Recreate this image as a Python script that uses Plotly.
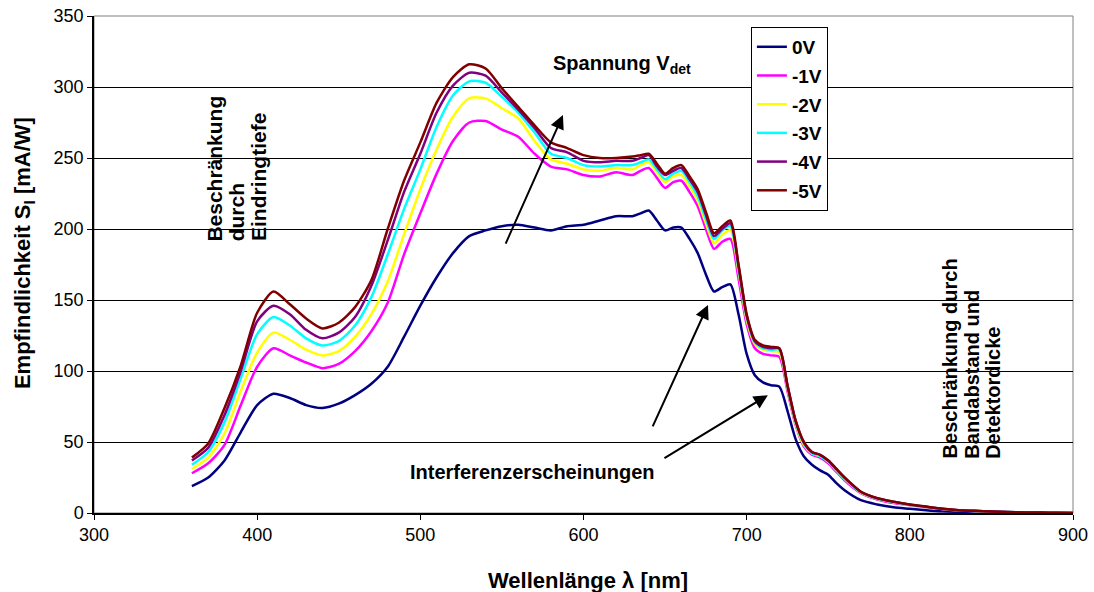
import plotly.graph_objects as go

# Wavelength grid [nm]
wavelength = [360, 370, 380, 390, 400, 410, 420, 430, 440, 450, 460, 470, 480, 490,
              500, 510, 520, 530, 540, 550, 560, 570, 580, 590, 600, 610, 620, 630,
              635, 640, 645, 650, 655, 660, 665, 670, 675, 680, 685, 690, 695, 700,
              705, 710, 715, 720, 725, 730, 735, 740, 745, 750, 755, 760,
              770, 780, 790, 800, 810, 820, 830, 840, 850, 860, 870, 880, 890, 900]

# Spectral responsivity [mA/W] per detector bias
s_0V = [19, 25, 37, 57, 76, 84, 81, 76, 74, 77, 83, 91, 103, 124,
        146, 166, 183, 195, 199, 202, 203, 201, 199, 202, 203, 206, 209, 209,
        211, 213, 206, 199, 201, 201, 193, 183, 168, 156, 159, 161, 140, 112,
        97, 92, 90, 89, 72, 52, 40, 34, 30, 27, 21, 16,
        9, 6, 4, 3, 2, 1.2, 0.8, 0.5, 0.3, 0.2, 0.1, 0.1, 0, 0]

s_1V = [28, 35, 48, 76, 103, 116, 111, 106, 102, 105, 114, 128, 148, 182,
        211, 239, 262, 275, 276, 270, 265, 253, 244, 242, 238, 237, 240, 238,
        241, 243, 236, 229, 233, 234, 226, 216, 200, 186, 191, 193, 165, 133,
        116, 112, 111, 110, 86, 62, 47, 41, 39, 35, 29, 23,
        14, 9.5, 7, 5.5, 4, 2.7, 1.8, 1.3, 0.9, 0.6, 0.4, 0.2, 0.1, 0]

s_2V = [31, 39, 56, 86, 113, 127, 122, 115, 111, 114, 124, 140, 163, 196,
        228, 256, 279, 292, 292, 285, 278, 262, 249, 246, 242, 241, 243, 242,
        245, 247, 240, 233, 237, 238, 230, 220, 204, 190, 196, 199, 170, 136,
        119, 115, 114, 113, 88, 63, 48, 42, 40, 36, 30, 24,
        14.5, 10, 7.5, 5.7, 4.2, 2.8, 1.9, 1.4, 0.9, 0.6, 0.4, 0.2, 0.1, 0]

s_3V = [34, 43, 64, 95, 126, 138, 132, 123, 118, 121, 132, 152, 182, 214,
        242, 272, 294, 304, 303, 293, 282, 268, 253, 250, 245, 244, 245, 245,
        247, 249, 242, 235, 239, 241, 233, 223, 207, 193, 199, 202, 172, 138,
        120, 116, 115, 115, 89, 64, 49, 42, 40, 36, 30, 24,
        14.7, 10.2, 7.7, 5.8, 4.3, 2.9, 1.9, 1.4, 1.0, 0.7, 0.4, 0.2, 0.1, 0]

s_4V = [37, 46, 69, 100, 135, 146, 140, 129, 123, 127, 138, 160, 192, 226,
        253, 282, 301, 310, 308, 296, 284, 271, 257, 254, 248, 247, 248, 248,
        250, 252, 244, 238, 241, 243, 235, 226, 210, 195, 200, 204, 174, 139,
        121, 117, 116, 116, 90, 65, 50, 43, 41, 37, 31, 25,
        15, 10.4, 7.9, 5.9, 4.4, 3, 2, 1.5, 1, 0.7, 0.4, 0.3, 0.1, 0]

s_5V = [39, 49, 74, 104, 141, 156, 147, 137, 130, 134, 145, 164, 200, 234,
        261, 289, 307, 316, 313, 299, 286, 273, 261, 257, 252, 250, 250, 251,
        252, 253, 246, 239, 243, 245, 237, 228, 212, 197, 202, 206, 175, 140,
        122, 118, 117, 116, 90, 65, 50, 43, 41, 37, 31, 25,
        15, 10.5, 8, 6, 4.5, 3, 2, 1.5, 1, 0.7, 0.4, 0.3, 0.1, 0]

series_names = ["0V", "-1V", "-2V", "-3V", "-4V", "-5V"]
series_values = [s_0V, s_1V, s_2V, s_3V, s_4V, s_5V]
series_colors = ["#000080", "#FF00FF", "#FFFF00", "#00FFFF", "#800080", "#800000"]

# Rotated side notes: one entry per text column, left to right
note_left = ["Beschränkung", "durch", "Eindringtiefe"]
note_right = ["Beschränkung durch", "Bandabstand und", "Detektordicke"]

FONT = "Liberation Sans, Arial, sans-serif"
TXT = 20

fig = go.Figure()
for name, vals, col in zip(series_names, series_values, series_colors):
    fig.add_trace(go.Scatter(
        x=wavelength, y=vals, name=name, mode="lines",
        line=dict(color=col, width=2.5, shape="spline", smoothing=0.7),
        legendgroup=name,
    ))

arrow_style = dict(showarrow=True, arrowhead=2, arrowsize=1.4, arrowwidth=2,
                   arrowcolor="black", axref="x", ayref="y", xref="x", yref="y", text="")
bold_font = dict(family=FONT, size=TXT, color="black")

annotations = [
    dict(x=587.4, y=280.3, ax=551.9, ay=188.7, **arrow_style),
    dict(x=676.3, y=146.5, ax=642.0, ay=59.9, **arrow_style),
    dict(x=713.0, y=83.0, ax=648.7, ay=38.0, **arrow_style),
    dict(x=623.6, y=316, xref="x", yref="y", showarrow=False,
         text="<b>Spannung V<sub>det</sub></b>", font=bold_font),
    dict(x=569, y=29, xref="x", yref="y", showarrow=False,
         text="<b>Interferenzerscheinungen</b>", font=bold_font),
    # axis titles
    dict(x=0.505, y=-0.135, xref="paper", yref="paper", showarrow=False,
         xanchor="center", yanchor="middle",
         text="<b>Wellenlänge λ [nm]</b>",
         font=dict(family=FONT, size=22, color="black")),
    dict(x=-0.0715, y=0.523, xref="paper", yref="paper", showarrow=False,
         xanchor="center", yanchor="middle", textangle=-90,
         text="<b>Empfindlichkeit S<sub>l</sub> [mA/W]</b>",
         font=dict(family=FONT, size=22, color="black")),
]

# Left note columns (pixel x ≈ 214, 236, 257), text starting at value ≈ 190
for j, line in enumerate(note_left):
    annotations.append(dict(
        x=373.8 + j * 13.3, y=190, xref="x", yref="y", showarrow=False,
        textangle=-90, xanchor="center", yanchor="bottom",
        text=f"<b>{line}</b>", font=dict(family=FONT, size=21, color="black")))

# Right note columns (pixel x ≈ 950, 972, 994), text starting at value ≈ 37
for j, line in enumerate(note_right):
    annotations.append(dict(
        x=824.6 + j * 13.3, y=37, xref="x", yref="y", showarrow=False,
        textangle=-90, xanchor="center", yanchor="bottom",
        text=f"<b>{line}</b>", font=bold_font))

fig.update_layout(
    width=1094, height=592,
    margin=dict(l=94, r=21, t=16, b=79),
    paper_bgcolor="white", plot_bgcolor="white",
    font=dict(family=FONT, size=18, color="black"),
    showlegend=True,
    legend=dict(
        x=0.671, y=0.978, xanchor="left", yanchor="top",
        bordercolor="black", borderwidth=1, bgcolor="white",
        font=dict(family=FONT, size=19, color="black", weight="bold"),
        tracegroupgap=1, itemwidth=30,
    ),
    annotations=annotations,
    shapes=[dict(type="rect", xref="paper", yref="paper", x0=0, y0=0, x1=1, y1=1,
                 line=dict(color="#808080", width=1), layer="below")],
)

fig.update_xaxes(
    range=[300, 900], dtick=100, tick0=300,
    showgrid=False, zeroline=False, automargin=False,
    showline=True, linecolor="black", linewidth=1.5,
    ticks="outside", ticklen=5, tickcolor="black",
    tickfont=dict(family=FONT, size=18, color="black"),
)
fig.update_yaxes(
    range=[0, 350], dtick=50, tick0=0,
    showgrid=True, gridcolor="black", gridwidth=1, zeroline=False, automargin=False,
    showline=True, linecolor="black", linewidth=1.5,
    ticks="outside", ticklen=5, tickcolor="black",
    tickfont=dict(family=FONT, size=18, color="black"),
)

fig.write_html("out.html")
